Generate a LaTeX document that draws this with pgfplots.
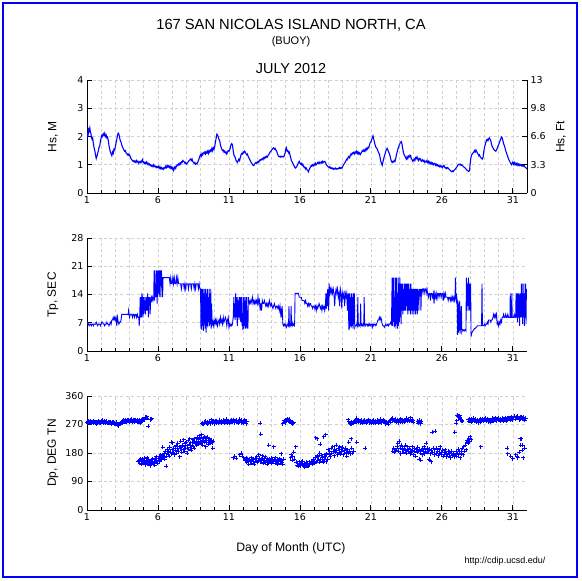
\documentclass[border=0pt]{standalone}
\usepackage{fontspec}
\setmainfont{Liberation Sans}
\newfontfamily\tickfont{DejaVu Sans}
\usepackage{pgfplots}
\pgfplotsset{compat=1.18}
\definecolor{cdipblue}{RGB}{0,0,255}
\pgfplotsset{
 panel/.style={
  width=440pt, height=113pt, scale only axis,
  xmin=1, xmax=32, xtick={1,6,11,16,21,26,31}, minor x tick num=4,
  axis x line*=bottom, axis y line*=left,
  axis line style={-, line width=0.8pt},
  grid=both,
  major grid style={black!18, dash pattern=on 3pt off 2.5pt, line width=0.6pt},
  minor grid style={black!18, dash pattern=on 3pt off 2.5pt, line width=0.6pt},
  tick style={black, line width=0.8pt},
  major tick length=5pt, minor tick length=3pt,
  tick label style={font=\tickfont\fontsize{9.5}{11}\selectfont},
  /pgf/number format/assume math mode=true,
  enlargelimits=false,
 }}
\begin{document}
\begin{tikzpicture}[x=1pt,y=1pt]
\path (0,0) rectangle (582,581);
\draw[cdipblue, line width=1.3pt] (3,4) rectangle (577,578);
% Panel 1: Hs
\begin{axis}[panel, at={(87pt,388pt)}, anchor=south west, height=113pt,
  ymin=0, ymax=4, ytick={0,1,2,3,4}]
\addplot[cdipblue, line width=1.1pt] coordinates {
(1.0,1.95)(1.04,2.1)(1.08,2.05)(1.12,2.25)(1.16,2.2)(1.2,2.3)(1.24,2.15)(1.28,2.1)(1.32,1.95)(1.36,1.9)(1.4,1.95)(1.45,1.75)(1.5,1.6)(1.55,1.5)(1.6,1.35)(1.65,1.22)(1.7,1.3)(1.75,1.4)(1.8,1.5)(1.85,1.62)(1.9,1.68)(1.95,1.85)(2.0,1.95)(2.05,2.05)(2.1,2.0)(2.15,2.1)(2.2,2.05)(2.25,2.12)(2.3,2.0)(2.35,2.05)(2.4,1.95)(2.45,1.98)(2.5,1.85)(2.55,1.68)(2.6,1.55)(2.65,1.45)(2.7,1.38)(2.75,1.32)(2.8,1.45)(2.85,1.4)(2.9,1.55)(2.95,1.52)(3.0,1.65)(3.05,1.78)(3.1,1.9)(3.15,2.05)(3.2,2.12)(3.25,2.08)(3.3,1.95)(3.35,1.85)(3.4,1.8)(3.45,1.7)(3.5,1.62)(3.55,1.58)(3.6,1.52)(3.65,1.48)(3.7,1.5)(3.75,1.42)(3.8,1.4)(3.85,1.35)(3.9,1.38)(3.95,1.33)(4.0,1.35)(4.05,1.28)(4.1,1.22)(4.15,1.18)(4.2,1.15)(4.25,1.12)(4.3,1.15)(4.35,1.1)(4.4,1.13)(4.45,1.08)(4.5,1.15)(4.55,1.1)(4.6,1.12)(4.65,1.05)(4.7,1.1)(4.75,1.12)(4.8,1.07)(4.85,1.13)(4.9,1.18)(4.95,1.08)(5.0,1.1)(5.05,1.05)(5.1,1.08)(5.15,1.03)(5.2,1.1)(5.25,1.05)(5.3,1.0)(5.35,1.05)(5.4,1.02)(5.45,0.97)(5.5,1.0)(5.55,0.95)(5.6,0.98)(5.65,0.93)(5.7,1.0)(5.75,0.95)(5.8,0.92)(5.85,0.95)(5.9,0.9)(5.95,0.93)(6.0,0.9)(6.05,0.95)(6.1,0.88)(6.15,0.92)(6.2,0.86)(6.25,0.9)(6.3,0.85)(6.35,0.88)(6.4,0.84)(6.45,0.9)(6.5,0.88)(6.55,0.95)(6.6,0.9)(6.65,0.97)(6.7,0.92)(6.75,0.96)(6.8,0.9)(6.85,0.95)(6.9,0.88)(6.95,0.92)(7.0,0.85)(7.05,0.9)(7.1,0.8)(7.15,0.88)(7.2,0.93)(7.25,0.87)(7.3,0.95)(7.35,1.0)(7.4,0.97)(7.45,1.03)(7.5,1.0)(7.55,1.06)(7.6,1.02)(7.65,1.1)(7.7,1.08)(7.75,1.15)(7.8,1.12)(7.85,1.1)(7.9,1.05)(7.95,1.08)(8.0,1.02)(8.05,1.05)(8.1,1.08)(8.15,1.12)(8.2,1.15)(8.25,1.18)(8.3,1.2)(8.35,1.15)(8.4,1.2)(8.45,1.12)(8.5,1.08)(8.55,1.05)(8.6,1.08)(8.65,1.02)(8.7,1.05)(8.75,1.03)(8.8,1.08)(8.85,1.15)(8.9,1.22)(8.95,1.3)(9.0,1.35)(9.05,1.3)(9.1,1.4)(9.15,1.35)(9.2,1.42)(9.25,1.4)(9.3,1.45)(9.35,1.38)(9.4,1.46)(9.45,1.42)(9.5,1.48)(9.55,1.4)(9.6,1.5)(9.65,1.45)(9.7,1.52)(9.75,1.48)(9.8,1.58)(9.85,1.5)(9.9,1.6)(9.95,1.55)(10.0,1.65)(10.05,1.8)(10.1,1.95)(10.15,2.08)(10.2,2.05)(10.25,1.98)(10.3,1.9)(10.35,1.85)(10.4,1.7)(10.45,1.62)(10.5,1.55)(10.55,1.5)(10.6,1.52)(10.65,1.45)(10.7,1.48)(10.75,1.42)(10.8,1.45)(10.85,1.38)(10.9,1.45)(10.95,1.5)(11.0,1.48)(11.05,1.52)(11.1,1.6)(11.15,1.72)(11.2,1.75)(11.25,1.7)(11.3,1.5)(11.35,1.35)(11.4,1.3)(11.45,1.25)(11.5,1.15)(11.55,1.12)(11.6,1.08)(11.65,1.15)(11.7,1.2)(11.75,1.15)(11.8,1.25)(11.85,1.35)(11.9,1.4)(11.95,1.38)(12.0,1.45)(12.05,1.42)(12.1,1.48)(12.15,1.45)(12.2,1.4)(12.25,1.35)(12.3,1.38)(12.35,1.3)(12.4,1.25)(12.45,1.2)(12.5,1.15)(12.55,1.1)(12.6,1.05)(12.65,1.02)(12.7,0.98)(12.75,0.97)(12.8,1.02)(12.85,1.05)(12.9,1.08)(12.95,1.05)(13.0,1.1)(13.05,1.12)(13.1,1.08)(13.15,1.15)(13.2,1.18)(13.25,1.15)(13.3,1.2)(13.35,1.22)(13.4,1.18)(13.45,1.25)(13.5,1.22)(13.55,1.28)(13.6,1.25)(13.65,1.3)(13.7,1.27)(13.75,1.32)(13.8,1.35)(13.85,1.4)(13.9,1.45)(13.95,1.48)(14.0,1.5)(14.05,1.55)(14.1,1.58)(14.15,1.6)(14.2,1.55)(14.25,1.58)(14.3,1.52)(14.35,1.5)(14.4,1.42)(14.45,1.35)(14.5,1.3)(14.55,1.28)(14.6,1.3)(14.65,1.27)(14.7,1.3)(14.75,1.28)(14.8,1.3)(14.85,1.28)(14.9,1.32)(14.95,1.4)(15.0,1.55)(15.05,1.6)(15.1,1.48)(15.15,1.5)(15.2,1.42)(15.25,1.45)(15.3,1.35)(15.35,1.25)(15.4,1.15)(15.45,1.1)(15.5,1.05)(15.55,1.0)(15.6,0.95)(15.65,0.9)(15.7,0.88)(15.75,0.92)(15.8,0.95)(15.85,1.02)(15.9,1.08)(15.95,1.12)(16.0,1.05)(16.05,1.02)(16.1,1.05)(16.15,0.98)(16.2,1.02)(16.25,0.95)(16.3,0.9)(16.35,0.92)(16.4,0.85)(16.45,0.88)(16.5,0.82)(16.55,0.8)(16.6,0.75)(16.65,0.82)(16.7,0.88)(16.75,0.92)(16.8,0.98)(16.85,0.95)(16.9,1.0)(16.95,0.97)(17.0,1.02)(17.05,0.98)(17.1,1.05)(17.15,1.0)(17.2,1.03)(17.25,1.08)(17.3,1.05)(17.35,1.1)(17.4,1.05)(17.45,1.08)(17.5,1.1)(17.55,1.05)(17.6,1.12)(17.65,1.08)(17.7,1.1)(17.75,1.12)(17.8,1.08)(17.85,1.02)(17.9,0.98)(17.95,0.95)(18.0,0.92)(18.05,0.9)(18.1,0.93)(18.15,0.88)(18.2,0.9)(18.25,0.86)(18.3,0.88)(18.35,0.84)(18.4,0.87)(18.45,0.85)(18.5,0.88)(18.55,0.84)(18.6,0.86)(18.65,0.85)(18.7,0.88)(18.75,0.86)(18.8,0.9)(18.85,0.87)(18.9,0.9)(18.95,0.88)(19.0,0.92)(19.05,0.97)(19.1,1.02)(19.15,1.05)(19.2,1.1)(19.25,1.15)(19.3,1.2)(19.35,1.18)(19.4,1.27)(19.45,1.3)(19.5,1.25)(19.55,1.32)(19.6,1.38)(19.65,1.35)(19.7,1.42)(19.75,1.4)(19.8,1.44)(19.85,1.38)(19.9,1.45)(19.95,1.42)(20.0,1.48)(20.05,1.4)(20.1,1.45)(20.15,1.38)(20.2,1.42)(20.25,1.36)(20.3,1.4)(20.35,1.45)(20.4,1.5)(20.45,1.47)(20.5,1.52)(20.55,1.48)(20.6,1.55)(20.65,1.5)(20.7,1.58)(20.75,1.55)(20.8,1.62)(20.85,1.6)(20.9,1.7)(20.95,1.78)(21.0,1.8)(21.05,1.88)(21.1,1.95)(21.15,2.02)(21.2,1.92)(21.25,1.8)(21.3,1.7)(21.35,1.62)(21.4,1.6)(21.45,1.55)(21.5,1.48)(21.55,1.42)(21.6,1.38)(21.65,1.25)(21.7,1.12)(21.75,1.05)(21.8,0.98)(21.85,1.1)(21.9,1.2)(21.95,1.3)(22.0,1.38)(22.05,1.48)(22.1,1.55)(22.15,1.58)(22.2,1.52)(22.25,1.45)(22.3,1.4)(22.35,1.32)(22.4,1.2)(22.45,1.12)(22.5,1.08)(22.55,1.12)(22.6,1.1)(22.65,1.15)(22.7,1.12)(22.75,1.22)(22.8,1.35)(22.85,1.45)(22.9,1.55)(22.95,1.62)(23.0,1.7)(23.05,1.75)(23.1,1.8)(23.15,1.82)(23.2,1.72)(23.25,1.55)(23.3,1.42)(23.35,1.35)(23.4,1.3)(23.45,1.25)(23.5,1.2)(23.55,1.28)(23.6,1.22)(23.65,1.3)(23.7,1.33)(23.75,1.28)(23.8,1.32)(23.85,1.22)(23.9,1.18)(23.95,1.12)(24.0,1.15)(24.05,1.2)(24.1,1.15)(24.15,1.25)(24.2,1.22)(24.25,1.28)(24.3,1.2)(24.35,1.15)(24.4,1.22)(24.45,1.18)(24.5,1.2)(24.55,1.12)(24.6,1.15)(24.65,1.18)(24.7,1.12)(24.75,1.15)(24.8,1.08)(24.85,1.12)(24.9,1.1)(24.95,1.15)(25.0,1.08)(25.05,1.12)(25.1,1.05)(25.15,1.1)(25.2,1.04)(25.25,1.08)(25.3,1.02)(25.35,1.06)(25.4,1.0)(25.45,1.04)(25.5,1.05)(25.55,0.98)(25.6,1.02)(25.65,0.97)(25.7,1.0)(25.75,0.95)(25.8,0.98)(25.85,0.93)(25.9,0.96)(25.95,0.92)(26.0,0.95)(26.05,0.9)(26.1,0.95)(26.15,0.98)(26.2,0.92)(26.25,0.88)(26.3,0.9)(26.35,0.86)(26.4,0.9)(26.45,0.88)(26.5,0.85)(26.55,0.82)(26.6,0.8)(26.65,0.77)(26.7,0.75)(26.75,0.78)(26.8,0.76)(26.85,0.8)(26.9,0.82)(26.95,0.85)(27.0,0.88)(27.05,0.92)(27.1,0.96)(27.15,1.0)(27.2,1.02)(27.25,1.0)(27.3,1.02)(27.35,0.98)(27.4,1.0)(27.45,0.97)(27.5,0.95)(27.55,0.92)(27.6,0.9)(27.65,0.88)(27.7,0.85)(27.75,0.82)(27.8,0.8)(27.85,0.78)(27.9,0.76)(27.95,0.8)(28.0,1.05)(28.05,1.25)(28.1,1.35)(28.15,1.38)(28.2,1.42)(28.25,1.45)(28.3,1.5)(28.35,1.45)(28.4,1.52)(28.45,1.48)(28.5,1.42)(28.55,1.38)(28.6,1.32)(28.65,1.35)(28.7,1.28)(28.75,1.25)(28.8,1.22)(28.85,1.2)(28.9,1.25)(28.95,1.45)(29.0,1.6)(29.05,1.7)(29.1,1.8)(29.15,1.88)(29.2,1.9)(29.25,1.85)(29.3,1.92)(29.35,1.95)(29.4,1.9)(29.45,1.85)(29.5,1.72)(29.55,1.65)(29.6,1.6)(29.65,1.55)(29.7,1.52)(29.75,1.5)(29.8,1.48)(29.85,1.52)(29.9,1.58)(29.95,1.65)(30.0,1.7)(30.05,1.78)(30.1,1.85)(30.15,1.92)(30.2,1.98)(30.25,1.95)(30.3,1.85)(30.35,1.75)(30.4,1.68)(30.45,1.6)(30.5,1.5)(30.55,1.42)(30.6,1.35)(30.65,1.28)(30.7,1.2)(30.75,1.15)(30.8,1.1)(30.85,1.05)(30.9,1.0)(30.95,1.05)(31.0,1.1)(31.05,1.02)(31.1,1.08)(31.15,1.0)(31.2,1.05)(31.25,1.0)(31.3,1.05)(31.35,0.98)(31.4,1.02)(31.45,0.97)(31.5,1.02)(31.55,0.98)(31.6,1.0)(31.65,0.95)(31.7,0.98)(31.75,0.95)(31.8,0.97)(31.85,0.92)(31.9,0.9)(31.95,0.88)(32.0,0.85)
};
\end{axis}
% right axis in feet
\begin{axis}[at={(87pt,388pt)}, anchor=south west, width=440pt, height=113pt, scale only axis,
  xmin=1, xmax=32, ymin=0, ymax=4, axis x line=none, axis y line*=right,
  axis line style={-, line width=0.8pt}, tick style={black, line width=0.8pt},
  major tick length=5pt,
  ytick={0,1,2,3,4}, yticklabels={0,3.3,6.6,9.8,13},
  tick label style={font=\tickfont\fontsize{9.5}{11}\selectfont}]
\end{axis}
% Panel 2: Tp
\begin{axis}[panel, at={(87pt,230pt)}, anchor=south west, height=113pt,
  ymin=0, ymax=28, ytick={0,7,14,21,28}]
\addplot[cdipblue, line width=0.9pt] coordinates {
(1.0,6.67)(1.05,7.14)(1.1,6.67)(1.15,6.25)(1.2,6.67)(1.25,6.67)(1.3,6.25)(1.35,6.67)(1.4,6.67)(1.45,6.25)(1.5,6.67)(1.55,6.67)(1.6,6.67)(1.65,7.14)(1.7,6.67)(1.75,6.25)(1.8,6.67)(1.85,6.67)(1.9,6.67)(1.95,6.25)(2.0,6.67)(2.05,7.14)(2.1,7.14)(2.15,6.67)(2.2,6.67)(2.25,6.25)(2.3,6.67)(2.35,6.67)(2.4,7.14)(2.45,6.67)(2.5,6.67)(2.55,6.25)(2.6,6.67)(2.65,7.14)(2.7,6.67)
(2.75,7.69)(2.8,7.69)(2.85,8.33)(2.9,7.69)(2.95,8.33)(3.0,7.69)(3.05,8.33)(3.1,6.25)(3.15,8.33)(3.2,7.14)(3.25,6.67)(3.3,7.14)(3.35,7.14)(3.4,7.69)
(3.45,9.09)(3.5,9.09)(3.6,9.09)(3.7,9.09)(3.75,9.09)(3.8,9.09)(3.85,9.09)(3.9,9.09)(3.93,10.0)(3.96,9.09)(4.0,8.33)(4.05,9.09)(4.1,9.09)(4.15,9.09)(4.2,8.33)(4.25,9.09)(4.3,9.09)(4.35,8.33)(4.4,9.09)(4.45,9.09)(4.5,8.33)(4.55,9.09)(4.6,8.33)(4.65,8.33)(4.68,6.25)(4.71,8.33)
(4.75,13.33)(4.78,8.33)(4.81,13.33)(4.84,8.33)(4.87,14.29)(4.9,13.33)(4.93,8.33)(4.96,13.33)(5.0,9.09)(5.03,13.33)(5.06,10.0)(5.09,12.5)(5.12,9.09)(5.15,13.33)(5.18,10.0)(5.21,13.33)(5.24,10.0)(5.27,14.29)(5.3,12.5)(5.33,8.33)(5.36,13.33)(5.39,11.76)(5.42,13.33)(5.45,9.09)(5.48,12.5)(5.52,13.33)(5.56,12.5)
(5.6,13.33)(5.65,12.5)(5.7,13.33)(5.73,20.0)(5.76,12.5)(5.79,20.0)(5.82,13.33)(5.85,16.67)(5.88,13.33)(5.91,20.0)(5.94,11.76)(5.97,15.38)(6.0,20.0)(6.03,14.29)(6.06,20.0)(6.09,13.33)(6.12,18.18)(6.15,20.0)(6.18,18.18)(6.21,13.33)(6.24,20.0)(6.27,18.18)(6.3,18.18)(6.33,13.33)(6.36,18.18)
(6.4,18.18)(6.5,18.18)(6.6,18.18)(6.7,18.18)(6.8,18.18)(6.85,16.67)(6.9,18.18)(6.95,16.67)(7.0,16.67)(7.05,18.18)(7.1,16.67)(7.15,18.18)(7.2,16.67)(7.25,16.67)(7.3,18.18)(7.35,16.67)(7.4,18.18)(7.45,16.67)
(7.5,16.67)(7.6,16.67)(7.65,15.38)(7.7,16.67)(7.8,16.67)(7.85,15.38)(7.9,16.67)(7.95,15.38)(8.0,16.67)(8.1,16.67)(8.15,15.38)(8.2,16.67)(8.3,16.67)(8.35,15.38)(8.4,16.67)(8.5,16.67)(8.55,15.38)(8.6,16.67)(8.65,15.38)(8.7,16.67)(8.8,16.67)(8.85,15.38)(8.9,16.67)(8.95,15.38)
(9.0,15.38)(9.03,5.56)(9.06,15.38)(9.09,5.26)(9.12,15.38)(9.15,6.25)(9.18,15.38)(9.21,5.0)(9.24,14.29)(9.27,6.67)(9.3,15.38)(9.33,5.56)(9.36,15.38)(9.39,4.55)(9.42,14.29)(9.45,6.25)(9.48,15.38)(9.51,5.88)(9.54,13.33)(9.57,7.14)(9.6,15.38)(9.63,6.25)(9.66,14.29)(9.69,6.67)(9.72,15.38)(9.75,5.56)(9.78,11.76)
(9.82,6.67)(9.86,7.14)(9.9,6.25)(9.95,7.69)(10.0,6.67)(10.05,7.69)(10.1,6.67)(10.15,7.69)(10.2,6.25)(10.25,7.14)(10.3,7.69)(10.35,6.67)(10.4,8.33)(10.45,7.14)(10.5,7.69)(10.55,6.67)(10.6,8.33)(10.65,7.14)(10.7,7.69)(10.75,8.33)(10.8,7.69)(10.85,6.25)(10.9,7.69)(10.95,8.33)(11.0,5.88)(11.05,6.67)(11.1,6.25)(11.15,6.67)(11.2,6.25)(11.25,6.67)(11.3,8.33)
(11.35,13.33)(11.38,8.33)(11.41,11.76)(11.44,7.69)(11.47,14.29)(11.5,8.33)(11.53,13.33)(11.56,9.09)(11.59,6.25)(11.62,13.33)(11.65,8.33)(11.68,12.5)(11.71,7.69)(11.74,13.33)(11.77,8.33)(11.8,13.33)(11.83,7.14)(11.86,9.09)(11.89,13.33)(11.92,6.25)(11.95,8.33)(11.98,5.26)(12.01,13.33)(12.04,5.56)(12.07,13.33)(12.1,6.25)(12.13,12.5)(12.16,5.56)(12.19,13.33)(12.22,5.88)(12.25,13.33)(12.28,5.56)(12.31,6.25)(12.34,5.56)(12.37,13.33)
(12.4,12.5)(12.45,11.76)(12.5,12.5)(12.55,11.76)(12.6,12.5)(12.65,13.33)(12.7,11.76)(12.75,12.5)(12.8,11.76)(12.85,12.5)(12.9,11.76)(12.95,12.5)(13.0,11.76)(13.05,13.33)(13.1,11.76)(13.15,12.5)(13.2,10.0)(13.25,11.76)(13.3,10.0)(13.35,12.5)(13.4,11.76)
(13.45,11.76)(13.5,12.5)(13.55,11.76)(13.6,11.11)(13.65,11.76)(13.7,11.11)(13.75,11.76)(13.8,11.11)(13.85,12.5)(13.9,11.76)(13.95,11.11)(14.0,11.76)(14.05,11.11)(14.1,10.53)(14.15,11.11)(14.2,11.76)(14.25,11.11)(14.3,10.53)(14.35,11.11)(14.4,11.11)(14.45,10.53)(14.5,11.11)(14.55,10.0)(14.6,11.11)(14.65,9.09)(14.7,10.53)(14.72,8.33)(14.75,11.11)
(14.8,6.67)(14.85,6.25)(14.9,6.67)(14.95,6.25)(15.0,6.67)(15.05,5.88)(15.1,6.25)(15.15,6.67)(15.2,6.25)(15.23,11.11)(15.26,6.25)(15.3,6.67)(15.35,6.25)(15.38,11.11)(15.41,6.25)(15.45,7.14)(15.5,6.25)(15.55,6.67)(15.6,6.25)(15.63,6.67)
(15.66,14.29)(15.7,14.29)(15.8,14.29)(15.9,14.29)(15.95,13.33)(16.0,13.33)(16.1,13.33)(16.15,12.5)(16.2,12.5)(16.3,12.5)(16.35,11.76)(16.4,12.5)(16.45,11.76)(16.5,11.76)(16.55,11.11)(16.6,11.76)(16.65,11.11)(16.7,11.76)(16.75,11.76)(16.8,11.11)(16.85,11.11)(16.9,10.53)(16.95,11.11)(17.0,11.11)(17.05,10.53)(17.1,11.11)(17.15,10.0)(17.2,11.11)(17.25,10.53)(17.3,11.11)(17.35,11.76)(17.4,11.11)(17.45,10.53)(17.5,11.11)(17.55,10.0)(17.6,11.11)(17.65,10.53)(17.7,11.11)(17.75,10.0)(17.8,11.11)
(17.83,14.29)(17.86,10.53)(17.9,14.29)(17.93,11.11)(17.96,15.38)(18.0,14.29)(18.03,10.0)(18.06,16.67)(18.1,14.29)(18.15,15.38)(18.2,14.29)(18.25,15.38)(18.3,14.29)(18.35,15.38)(18.4,14.29)(18.45,11.11)(18.5,14.29)(18.55,15.38)(18.6,14.29)(18.65,15.38)(18.7,13.33)(18.75,14.29)(18.8,11.11)(18.85,15.38)(18.9,14.29)(18.95,10.53)(19.0,14.29)(19.05,13.33)(19.1,14.29)(19.15,11.11)(19.2,14.29)(19.25,13.33)(19.3,14.29)(19.35,10.0)(19.4,14.29)
(19.45,5.26)(19.48,14.29)(19.51,5.56)(19.54,13.33)(19.57,6.25)(19.6,14.29)(19.63,5.88)(19.66,14.29)(19.69,6.25)(19.72,13.33)(19.75,5.56)(19.78,14.29)(19.81,6.67)(19.84,14.29)(19.87,5.88)(19.9,6.25)
(19.95,6.25)(20.0,6.67)(20.05,6.25)(20.08,13.33)(20.11,6.25)(20.15,6.67)(20.2,6.25)(20.25,6.67)(20.28,11.76)(20.31,6.25)(20.35,6.67)(20.4,6.25)(20.45,6.67)(20.5,6.25)(20.53,13.33)(20.56,6.67)(20.6,6.25)(20.65,6.67)(20.7,6.67)(20.75,6.25)(20.8,6.67)(20.85,6.25)(20.9,6.67)(20.95,6.25)(21.0,6.67)(21.05,6.67)(21.1,5.88)(21.15,6.67)(21.2,6.25)(21.25,6.67)(21.3,6.67)(21.35,6.25)(21.4,6.67)(21.45,7.14)(21.5,7.69)(21.55,7.69)(21.6,8.33)(21.65,7.69)(21.7,8.33)(21.75,7.69)(21.8,6.67)(21.85,6.25)(21.9,6.25)(21.95,5.88)(22.0,6.25)(22.05,6.67)(22.1,6.25)(22.15,6.25)(22.2,6.67)(22.25,6.25)(22.3,6.67)(22.35,6.67)(22.4,7.14)(22.45,6.67)
(22.5,18.18)(22.53,6.25)(22.56,18.18)(22.59,7.14)(22.62,18.18)(22.65,5.88)(22.68,13.33)(22.71,6.25)(22.74,18.18)(22.77,5.56)(22.8,18.18)(22.83,6.67)(22.86,14.29)(22.89,5.56)(22.92,18.18)(22.95,6.25)(22.98,16.67)(23.01,7.14)(23.04,18.18)(23.07,8.33)(23.1,16.67)(23.13,6.67)
(23.16,16.67)(23.19,10.0)(23.22,16.67)(23.25,9.09)(23.28,15.38)(23.31,10.0)(23.34,16.67)(23.37,10.0)(23.4,16.67)(23.43,10.0)(23.46,16.67)(23.49,11.11)(23.52,16.67)(23.55,10.0)(23.58,16.67)(23.61,9.09)(23.64,16.67)(23.67,10.0)(23.7,15.38)(23.73,10.0)(23.76,16.67)(23.79,9.09)(23.82,16.67)(23.85,10.0)(23.88,15.38)(23.91,9.09)(23.94,15.38)(23.97,10.0)(24.0,15.38)(24.03,9.09)(24.06,15.38)(24.09,10.0)(24.12,15.38)(24.15,9.09)(24.18,15.38)(24.21,10.0)(24.24,15.38)(24.27,9.09)(24.3,15.38)(24.35,14.29)(24.38,10.0)(24.41,15.38)(24.45,14.29)(24.5,15.38)(24.53,10.0)(24.56,15.38)(24.6,14.29)(24.65,15.38)(24.7,15.38)(24.75,14.29)(24.8,15.38)(24.85,15.38)(24.9,14.29)(24.95,15.38)
(25.0,14.29)(25.05,13.33)(25.1,14.29)(25.15,14.29)(25.2,12.5)(25.25,14.29)(25.3,14.29)(25.35,13.33)(25.4,14.29)(25.45,11.76)(25.5,14.29)(25.55,13.33)(25.6,14.29)(25.65,12.5)(25.7,14.29)(25.75,14.29)(25.8,13.33)(25.85,14.29)(25.9,14.29)(25.95,13.33)(26.0,14.29)(26.05,14.29)(26.1,12.5)(26.15,14.29)(26.2,13.33)(26.25,14.29)(26.3,13.33)(26.35,13.33)(26.4,13.33)(26.45,12.5)(26.5,13.33)(26.55,13.33)(26.6,12.5)(26.65,13.33)(26.7,12.5)(26.75,13.33)(26.8,12.5)(26.85,13.33)(26.9,12.5)(26.93,13.33)
(26.96,18.18)(26.99,13.33)(27.02,12.5)(27.05,13.33)(27.08,12.5)(27.11,4.0)(27.14,12.5)(27.17,4.55)(27.2,11.76)(27.23,5.0)(27.26,12.5)(27.29,4.35)(27.32,10.0)(27.35,5.26)(27.38,11.11)(27.41,4.76)(27.45,5.26)(27.5,5.0)(27.55,5.26)(27.6,5.0)(27.65,5.26)(27.7,5.0)(27.73,18.18)(27.76,10.0)(27.79,16.67)(27.82,11.11)(27.85,16.67)(27.88,18.18)(27.91,10.0)(27.94,16.67)(27.97,15.38)(28.0,10.0)(28.03,16.67)(28.06,3.57)
(28.1,4.35)(28.15,4.76)(28.2,5.0)(28.25,5.26)(28.3,5.56)(28.35,5.56)(28.4,5.88)(28.45,5.88)(28.5,6.25)(28.55,6.25)(28.6,6.25)(28.65,6.25)(28.7,6.25)(28.75,6.25)(28.8,6.25)(28.83,16.67)(28.86,6.25)(28.9,6.25)(28.95,6.25)(29.0,6.67)(29.05,6.25)(29.1,6.67)(29.15,6.67)(29.2,7.14)(29.25,6.67)(29.3,7.69)(29.35,7.69)(29.4,7.69)(29.45,7.14)(29.5,7.69)(29.55,7.69)(29.6,8.33)(29.65,9.09)(29.7,8.33)(29.75,9.09)(29.8,8.33)(29.85,9.09)(29.9,6.67)(29.95,7.14)(30.0,6.25)(30.05,7.14)(30.1,6.67)(30.15,7.69)(30.2,7.14)(30.25,8.33)
(30.3,8.33)(30.35,9.09)(30.4,8.33)(30.45,8.33)(30.5,9.09)(30.55,8.33)(30.6,8.33)(30.65,9.09)(30.7,8.33)(30.75,8.33)(30.8,8.33)(30.82,14.29)(30.85,8.33)(30.9,8.33)(30.93,14.29)(30.96,8.33)(31.0,8.33)(31.05,8.33)(31.1,9.09)(31.15,8.33)(31.2,8.33)(31.23,14.29)(31.26,8.33)(31.3,14.29)(31.33,7.14)(31.36,14.29)(31.39,8.33)(31.42,14.29)(31.45,8.33)(31.48,6.25)(31.51,14.29)(31.54,9.09)(31.57,8.33)(31.6,16.67)(31.63,8.33)(31.66,16.67)(31.69,6.67)(31.72,14.29)(31.75,8.33)(31.78,16.67)(31.81,6.25)(31.84,14.29)(31.87,8.33)(31.9,16.67)(31.93,6.67)(31.96,15.38)(32.0,14.29)
};
\end{axis}
% Panel 3: Dp
\begin{axis}[panel, at={(87pt,71pt)}, anchor=south west, height=114pt,
  ymin=0, ymax=360, ytick={0,90,180,270,360}]
\addplot[cdipblue, only marks, mark=+, mark size=2pt, mark options={line width=0.8pt}] coordinates {
(1.0,278)(1.04,275)(1.08,280)(1.12,277)(1.16,279)(1.2,276)(1.24,280)(1.28,278)(1.32,274)(1.36,279)(1.4,277)(1.44,281)(1.48,276)(1.52,278)(1.56,275)(1.6,279)(1.64,277)(1.68,273)(1.72,278)(1.76,276)(1.8,280)(1.84,277)(1.88,274)(1.92,278)(1.96,276)(2.0,281)(2.04,278)(2.08,283)(2.12,279)(2.16,276)(2.2,280)(2.24,278)(2.28,275)(2.32,279)(2.36,277)(2.4,280)(2.44,276)(2.48,278)(2.52,274)(2.56,277)(2.6,275)(2.64,279)(2.68,276)(2.72,273)(2.76,277)(2.8,274)(2.84,278)(2.88,275)(2.92,272)(2.96,276)(3.0,273)(3.04,277)(3.08,274)(3.12,270)(3.16,268)(3.2,272)(3.24,266)(3.28,270)(3.32,274)(3.36,271)(3.4,276)(3.44,279)(3.48,275)(3.52,280)(3.56,283)(3.6,278)(3.64,282)(3.68,279)(3.72,284)(3.76,281)(3.8,278)(3.84,283)(3.88,280)(3.92,285)(3.96,282)(4.0,279)(4.04,284)(4.08,281)(4.12,286)(4.16,282)(4.2,279)(4.24,284)(4.28,281)(4.32,278)(4.36,283)(4.4,280)(4.44,285)(4.48,282)(4.52,279)(4.56,284)(4.6,280)(4.64,277)(4.68,283)(4.72,279)(4.76,274)(4.8,280)(4.84,285)(4.88,282)(4.92,286)(4.96,283)(5.0,288)(5.04,285)(5.08,290)(5.12,293)(5.16,289)(5.2,295)(5.25,290)(5.32,265)(5.45,287)(5.5,285)(5.55,288)
(4.62,152)(4.68,158)(4.72,148)(4.76,160)(4.8,155)(4.84,145)(4.88,162)(4.92,150)(4.96,157)(5.0,147)(5.04,163)(5.08,153)(5.12,143)(5.16,158)(5.2,150)(5.24,165)(5.28,145)(5.32,155)(5.36,160)(5.4,148)(5.44,140)(5.48,153)(5.52,158)(5.56,145)(5.6,150)(5.64,162)(5.68,147)(5.72,155)(5.76,142)(5.8,160)(5.84,150)(5.88,168)(5.92,155)(5.96,148)(6.0,163)(6.04,158)(6.08,170)(6.12,152)(6.16,165)(6.2,175)(6.24,160)(6.28,168)(6.32,198)(6.36,172)(6.4,165)(6.44,178)(6.48,160)(6.52,185)(6.56,170)(6.6,138)(6.64,180)(6.68,192)(6.72,175)(6.76,186)(6.8,170)(6.84,198)(6.88,183)(6.92,215)(6.96,178)(7.0,190)(7.04,212)(7.08,182)(7.12,195)(7.16,175)(7.2,200)(7.24,188)(7.28,205)(7.32,180)(7.36,195)(7.4,210)(7.44,185)(7.48,200)(7.52,168)(7.56,193)(7.6,218)(7.64,198)(7.68,182)(7.72,205)(7.76,190)(7.8,222)(7.84,200)(7.88,186)(7.92,210)(7.96,195)(8.0,215)(8.04,180)(8.08,203)(8.12,220)(8.16,192)(8.2,208)(8.24,225)(8.28,198)(8.32,212)(8.36,188)(8.4,205)(8.44,222)(8.48,200)(8.52,215)(8.56,195)(8.6,225)(8.64,210)(8.68,218)(8.72,205)(8.76,230)(8.8,213)(8.84,222)(8.88,208)(8.92,235)(8.96,218)(9.0,225)(9.04,210)(9.08,238)(9.12,220)(9.16,205)(9.2,228)(9.24,215)(9.28,232)(9.32,218)(9.36,200)(9.4,225)(9.44,212)(9.48,230)(9.52,220)(9.56,208)(9.6,225)(9.64,215)(9.68,218)(9.72,210)(9.76,220)(9.8,212)(9.85,195)(9.9,218)
(9.1,272)(9.15,276)(9.2,270)(9.25,278)(9.3,274)(9.35,280)(9.4,276)(9.45,272)(9.5,279)(9.55,275)(9.6,281)(9.65,277)(9.7,273)(9.75,285)(9.8,279)(9.85,275)(9.9,281)(9.95,277)(10.0,273)(10.05,280)(10.1,276)(10.15,282)(10.2,278)(10.25,274)(10.3,280)(10.35,284)(10.4,278)(10.45,274)(10.5,281)(10.55,277)(10.6,283)(10.65,279)(10.7,275)(10.75,281)(10.8,286)(10.85,280)(10.9,276)(10.95,282)(11.0,278)(11.05,274)(11.1,281)(11.15,277)(11.2,283)(11.25,279)(11.3,285)(11.35,280)(11.4,276)(11.45,282)(11.5,278)(11.55,284)(11.6,279)(11.65,275)(11.7,281)(11.75,286)(11.8,280)(11.85,276)(11.9,283)(11.95,279)(12.0,274)(12.05,280)(12.1,285)(12.15,278)(12.2,272)(12.25,280)
(11.3,165)(11.4,170)(11.5,163)(11.75,175)(11.85,180)(11.95,170)(12.05,165)(12.1,160)(12.15,158)(12.2,165)(12.25,150)(12.3,162)(12.35,155)(12.4,145)(12.45,160)(12.5,152)(12.55,165)(12.6,148)(12.65,158)(12.7,162)(12.75,152)(12.8,145)(12.85,160)(12.9,155)(12.95,168)(13.0,150)(13.05,158)(13.1,175)(13.15,163)(13.2,153)(13.25,240)(13.28,160)(13.32,150)(13.36,172)(13.4,157)(13.44,148)(13.48,162)(13.52,155)(13.56,168)(13.6,150)(13.64,158)(13.68,145)(13.72,162)(13.76,153)(13.8,205)(13.84,160)(13.88,150)(13.92,157)(13.96,163)(14.0,148)(14.04,155)(14.08,160)(14.12,152)(14.16,200)(14.2,158)(14.24,147)(14.28,165)(14.32,155)(14.36,150)(14.4,160)(14.44,145)(14.48,157)(14.52,152)(14.56,162)(14.6,148)(14.64,155)(14.68,178)(14.72,158)(14.76,150)(14.8,145)(14.85,160)(13.2,275)
(14.8,272)(14.85,278)(14.9,282)(14.95,276)(15.0,285)(15.05,280)(15.1,288)(15.15,283)(15.2,280)(15.25,286)(15.3,278)(15.35,282)(15.4,275)(15.45,279)(15.5,272)(15.55,276)
(15.35,165)(15.4,175)(15.45,158)(15.5,170)(15.55,182)(15.6,160)(15.7,200)(15.75,150)(15.8,142)(15.85,148)(15.9,138)(15.95,152)(16.0,145)(16.05,140)(16.1,150)(16.15,143)(16.2,155)(16.25,140)(16.3,148)(16.35,136)(16.4,145)(16.45,150)(16.5,138)(16.55,146)(16.6,140)(16.65,152)(16.7,143)(16.75,148)(16.8,155)(16.85,145)(16.9,150)(16.95,160)(17.0,148)(17.05,155)(17.1,165)(17.12,228)(17.15,150)(17.2,172)(17.22,225)(17.25,158)(17.3,168)(17.35,150)(17.4,180)(17.42,208)(17.45,160)(17.5,172)(17.55,155)(17.6,165)(17.65,150)(17.68,232)(17.7,175)(17.75,160)(17.8,168)(17.82,238)(17.85,152)(17.9,178)(17.95,160)(18.0,190)(18.05,175)(18.1,185)(18.15,168)(18.2,195)(18.25,180)(18.3,200)(18.35,185)(18.4,172)(18.45,192)(18.5,182)(18.55,205)(18.6,188)(18.65,175)(18.7,195)(18.75,183)(18.8,200)(18.85,178)(18.9,192)(18.95,185)(19.0,198)(19.05,175)(19.1,188)(19.15,180)(19.2,195)(19.25,183)(19.3,170)(19.35,190)(19.4,180)(19.45,215)(19.5,185)(19.55,178)(19.6,225)(19.65,195)(19.7,180)(19.8,185)(20.0,215)(20.6,195)
(19.4,285)(19.45,280)(19.5,276)(19.55,273)(19.6,278)(19.65,270)(19.7,274)(19.75,279)(19.8,275)(19.85,280)(19.9,284)(19.95,278)(20.0,290)(20.05,282)(20.1,278)(20.15,285)(20.2,280)(20.25,276)(20.3,283)(20.35,279)(20.4,274)(20.45,281)(20.5,277)(20.55,283)(20.6,279)(20.65,275)(20.7,282)(20.75,278)(20.8,285)(20.85,280)(20.9,276)(20.95,282)(21.0,278)(21.05,274)(21.1,280)(21.15,276)(21.2,283)(21.25,279)(21.3,275)(21.35,281)(21.4,277)(21.45,283)(21.5,279)(21.55,275)(21.6,281)(21.65,286)(21.7,280)(21.75,276)(21.8,282)(21.85,278)(21.9,284)(21.95,280)(22.0,276)(22.05,272)(22.1,278)(22.15,274)(22.2,270)(22.25,276)(22.3,280)(22.35,284)(22.4,278)(22.45,286)(22.5,282)(22.55,290)(22.6,284)(22.65,280)(22.7,287)(22.75,282)(22.8,278)(22.85,285)(22.9,280)(22.95,276)(23.0,283)(23.05,279)(23.1,288)(23.15,282)(23.2,278)(23.25,285)(23.3,281)(23.35,277)(23.4,284)(23.45,280)(23.5,290)(23.55,284)(23.6,280)(23.65,286)(23.7,282)(23.75,292)(23.8,285)(23.85,280)(23.9,287)(23.95,283)(24.0,278)(24.3,280)(24.35,275)(24.4,284)(24.45,278)(24.5,272)(24.55,281)
(22.55,185)(22.6,195)(22.65,182)(22.7,190)(22.8,188)(22.85,200)(22.9,210)(22.95,185)(23.0,218)(23.05,195)(23.1,178)(23.15,205)(23.2,190)(23.25,200)(23.3,183)(23.35,195)(23.4,188)(23.45,205)(23.5,180)(23.55,192)(23.6,200)(23.65,185)(23.7,195)(23.75,178)(23.8,190)(23.85,183)(23.9,200)(23.95,188)(24.0,175)(24.05,195)(24.1,185)(24.15,170)(24.2,192)(24.25,182)(24.3,198)(24.35,185)(24.4,160)(24.45,192)(24.5,180)(24.55,188)(24.6,175)(24.65,195)(24.7,185)(24.75,200)(24.8,178)(24.85,190)(24.9,210)(24.95,182)(25.0,195)(25.05,185)(25.1,160)(25.15,192)(25.2,178)(25.25,188)(25.3,245)(25.35,182)(25.4,195)(25.45,175)(25.5,190)(25.55,248)(25.6,180)(25.65,195)(25.7,185)(25.75,172)(25.8,190)(25.85,178)(25.9,200)(25.95,182)(26.0,175)(26.05,188)(26.1,170)(26.15,183)(26.2,175)(26.25,190)(26.3,168)(26.35,180)(26.4,175)(26.45,185)(26.5,170)(26.55,182)(26.6,165)(26.65,178)(26.7,185)(26.75,172)(26.8,180)(26.85,168)(26.9,245)(26.95,175)(27.0,185)(27.05,170)(27.1,180)(27.15,192)(27.2,175)(27.25,185)(27.3,165)(27.35,178)(27.4,185)(27.45,195)(27.5,175)(27.55,200)(27.6,185)(27.65,205)(27.7,190)(27.75,215)(27.8,220)(27.85,210)(27.9,225)(27.95,218)(28.0,232)(28.05,222)(25.15,158)(25.25,152)(24.5,158)
(27.0,275)(27.05,282)(27.1,300)(27.15,296)(27.2,292)(27.25,298)(27.3,290)(27.35,286)(27.4,282)(27.45,280)
(27.85,285)(27.9,280)(27.95,288)(28.0,283)(28.05,278)(28.1,286)(28.15,281)(28.2,289)(28.25,284)(28.3,280)(28.35,286)(28.4,282)(28.45,278)(28.5,284)(28.55,280)(28.6,276)(28.65,283)(28.7,279)(28.75,286)(28.8,282)(28.85,288)(28.9,284)(28.95,280)(29.0,286)(29.05,290)(29.1,285)(29.15,281)(29.2,287)(29.25,283)(29.3,279)(29.35,285)(29.4,281)(29.45,277)(29.5,284)(29.55,289)(29.6,284)(29.65,280)(29.7,287)(29.75,292)(29.8,286)(29.85,282)(29.9,288)(29.95,284)(30.0,290)(30.05,285)(30.1,281)(30.15,287)(30.2,283)(30.25,289)(30.3,284)(30.35,280)(30.4,287)(30.45,292)(30.5,286)(30.55,282)(30.6,289)(30.65,285)(30.7,291)(30.75,287)(30.8,283)(30.85,290)(30.9,295)(30.95,289)(31.0,285)(31.05,292)(31.1,297)(31.15,291)(31.2,287)(31.25,294)(31.3,289)(31.35,296)(31.4,290)(31.45,285)(31.5,293)(31.55,288)(31.6,295)(31.65,290)(31.7,286)(31.75,293)(31.8,288)(31.85,283)(31.9,290)
(28.75,200)(30.6,195)(30.65,178)(30.85,170)(31.0,162)(31.2,175)(31.3,168)(31.35,165)(31.45,183)(31.5,225)(31.55,205)(31.6,225)(31.65,188)(31.7,205)(31.75,165)(31.85,195)
};
\end{axis}
% texts
\node at (291,556) {\fontsize{14.7}{17}\selectfont 167 SAN NICOLAS ISLAND NORTH, CA};
\node at (291,539) {\fontsize{11}{13}\selectfont (BUOY)};
\node at (291,512) {\fontsize{14.4}{17}\selectfont JULY 2012};
\node[rotate=90] at (53,444) {\fontsize{12}{14}\selectfont Hs, M};
\node[rotate=90] at (561,444) {\fontsize{12}{14}\selectfont Hs, Ft};
\node[rotate=90] at (53,286) {\fontsize{12}{14}\selectfont Tp, SEC};
\node[rotate=90] at (53,128) {\fontsize{12}{14}\selectfont Dp, DEG TN};
\node at (291,33) {\fontsize{12.2}{14}\selectfont Day of Month (UTC)};
\node at (505,20) {\fontsize{9}{11}\selectfont http://cdip.ucsd.edu/};
\end{tikzpicture}
\end{document}
